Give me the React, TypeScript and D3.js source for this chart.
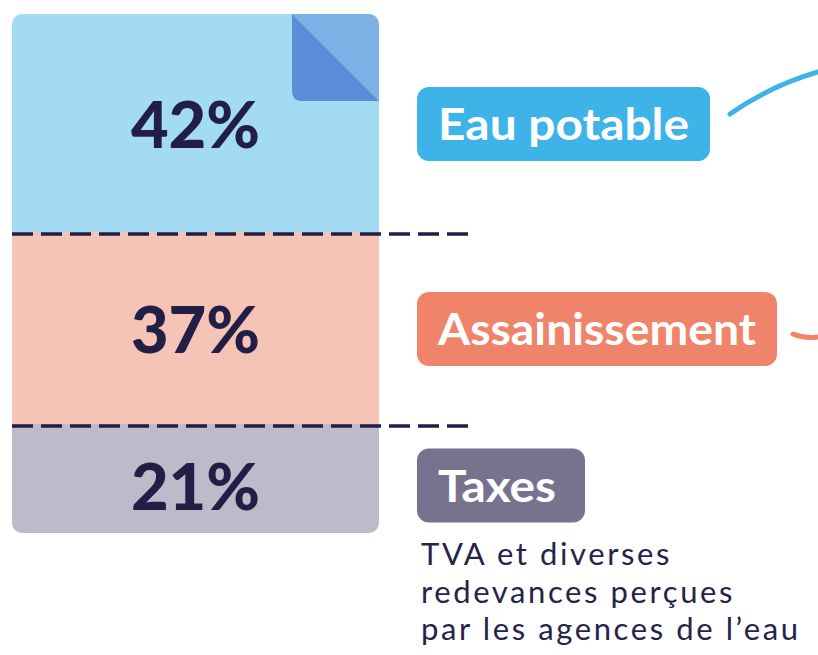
import React from 'react';
import * as d3 from 'd3';

// parts of the water bill
const categories = ['Eau potable', 'Assainissement', 'Taxes'];
const shares = [42, 37, 21];
const fills = ['#a4dbf4', '#f6c4b6', '#bdbbc9'];
const pillColors = ['#3db3e8', '#f0846a', '#77738f'];
const taxNote = ['TVA et diverses', 'redevances perçues', "par les agences de l\u2019eau"];

const W = 818;
const H = 655;
const bar = { x0: 12, x1: 379, y0: 14, y1: 533 };
const ink = '#221e46';

const App = () => {
  const y = d3.scaleLinear().domain([0, d3.sum(shares)]).range([bar.y0, bar.y1]);
  const ends = Array.from(d3.cumsum(shares));
  const segs = shares.map((v, i) => ({
    name: categories[i],
    value: v,
    top: y(ends[i] - v),
    bottom: y(ends[i]),
  }));
  const barMid = (bar.x0 + bar.x1) / 2;
  const fold = 87;

  const pillPad = 21;
  const pillW = [293, 360, 168];

  return (
    <svg width={W} height={H} style={{ position: 'absolute', left: 0, top: 0, background: '#fff' }}
      fontFamily="Lato, 'Open Sans', sans-serif">
      <defs>
        <clipPath id="barClip">
          <rect x={bar.x0} y={bar.y0} width={bar.x1 - bar.x0} height={bar.y1 - bar.y0} rx={10} />
        </clipPath>
      </defs>

      <g clipPath="url(#barClip)">
        {segs.map((s, i) => (
          <rect key={s.name} x={bar.x0} y={s.top} width={bar.x1 - bar.x0} height={s.bottom - s.top} fill={fills[i]} />
        ))}
        {/* folded corner */}
        <path
          d={`M${bar.x1 - fold},${bar.y0} L${bar.x1},${bar.y0} L${bar.x1},${bar.y0 + fold} Z`}
          fill="#7db2e6"
        />
        <path
          d={`M${bar.x1 - fold},${bar.y0} L${bar.x1},${bar.y0 + fold} L${bar.x1 - fold + 10},${bar.y0 + fold}
              Q${bar.x1 - fold},${bar.y0 + fold} ${bar.x1 - fold},${bar.y0 + fold - 10} Z`}
          fill="#5b8ed9"
        />
      </g>

      {segs.slice(0, -1).map(s => (
        <line key={'d' + s.name} x1={bar.x0} x2={474} y1={s.bottom + 2} y2={s.bottom + 2}
          stroke={ink} strokeWidth={3.5} strokeDasharray="21,8" />
      ))}

      {segs.map((s, i) => {
        const mid = (s.top + s.bottom) / 2 + (i === 2 ? 7 : 1);
        return (
          <g key={'l' + s.name}>
            <text x={barMid} y={mid + 24} textAnchor="middle" fontSize={65} fontWeight={900} fill={ink}>
              {s.value}%
            </text>
            <rect x={417} y={mid - 37} width={pillW[i]} height={74} rx={12} fill={pillColors[i]} />
            <text x={417 + pillPad} y={mid + 16} fontSize={43} fontWeight={700} fill="#fff"
              textLength={pillW[i] - pillPad * 2 - (i === 2 ? 8 : 0)} lengthAdjust="spacingAndGlyphs">
              {s.name}
            </text>
          </g>
        );
      })}

      {taxNote.map((t, i) => (
        <text key={t} x={421} y={565 + i * 37.5} fontSize={31} letterSpacing={2.6} fill="#26234b">{t}</text>
      ))}

      {/* connector curves leaving the frame */}
      <path d="M730,114 Q770,86 818,72" fill="none" stroke="#3db3e8" strokeWidth={5} strokeLinecap="round" />
      <path d="M793,334 Q805,339 818,337" fill="none" stroke="#f0846a" strokeWidth={5} strokeLinecap="round" />
    </svg>
  );
};

export default App;
